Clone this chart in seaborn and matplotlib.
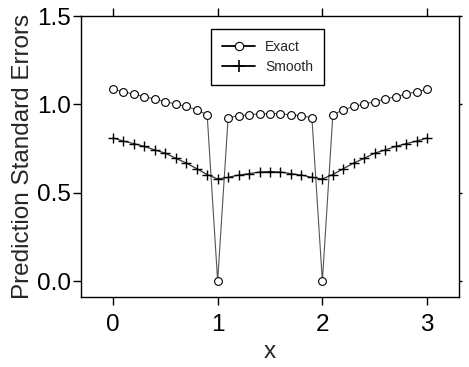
import matplotlib
matplotlib.use('Agg')
import matplotlib.pyplot as plt
import seaborn as sns
import numpy as np
from matplotlib.lines import Line2D

# x grid: 0.0 .. 3.0 in steps of 0.1
x_vals = [round(0.1 * i, 1) for i in range(31)]

exact = [1.085, 1.071, 1.058, 1.044, 1.030, 1.016, 1.002, 0.988, 0.970, 0.940,
         0.0,
         0.925, 0.935, 0.941, 0.946, 0.948, 0.946, 0.941, 0.935, 0.925,
         0.0,
         0.940, 0.970, 0.988, 1.002, 1.016, 1.030, 1.044, 1.058, 1.071, 1.085]

smooth = [0.810, 0.792, 0.778, 0.762, 0.742, 0.724, 0.695, 0.668, 0.636, 0.603,
          0.578,
          0.587, 0.600, 0.608, 0.617, 0.620, 0.617, 0.608, 0.600, 0.587,
          0.578,
          0.603, 0.636, 0.668, 0.695, 0.724, 0.742, 0.762, 0.778, 0.792, 0.810]

sns.set_style('ticks')
plt.rcParams['font.family'] = ['Liberation Sans', 'DejaVu Sans']

fig = plt.figure(figsize=(4.69, 3.67), dpi=100)
ax = fig.add_axes([0.1727, 0.1907, 0.806, 0.7657])

sns.lineplot(x=x_vals, y=exact, ax=ax, color='#555555', linewidth=0.8,
             marker='o', markersize=5.6, markerfacecolor='white',
             markeredgecolor='black', markeredgewidth=0.8)
sns.lineplot(x=x_vals, y=smooth, ax=ax, color='#333333', linewidth=0.9,
             marker='+', markersize=7, markeredgecolor='black',
             markeredgewidth=1.0)

ax.set_xlim(-0.305, 3.305)
ax.set_ylim(-0.09, 1.5)
ax.set_xticks([0, 1, 2, 3])
ax.set_yticks([0.0, 0.5, 1.0, 1.5])
ax.set_yticklabels(['0.0', '0.5', '1.0', '1.5'])

ax.set_xlabel('x', fontsize=17.5, labelpad=3)
ax.set_ylabel('Prediction Standard Errors', fontsize=17.5, labelpad=2)

for s in ax.spines.values():
    s.set_linewidth(1.0)
    s.set_color('black')

ax.tick_params(axis='both', direction='out', length=5.5, width=1.0,
               colors='black', labelsize=17.5)
ax.tick_params(axis='x', pad=7, top=True)
ax.tick_params(axis='y', pad=1.5, right=True)
for t in ax.yaxis.get_ticklines()[1::2]:
    t.set_markersize(2)

handles = [
    Line2D([], [], color='black', linewidth=1.3, marker='o', markersize=6,
           markerfacecolor='white', markeredgecolor='black', markeredgewidth=0.8),
    Line2D([], [], color='black', linewidth=1.3, marker='+', markersize=9,
           markeredgecolor='black', markeredgewidth=1.2),
]
leg = ax.legend(handles, ['Exact', 'Smooth'], loc='upper left',
                bbox_to_anchor=(0.344, 0.954), fontsize=10, frameon=True,
                fancybox=False, edgecolor='black', framealpha=1,
                handlelength=2.4, borderpad=0.8, labelspacing=0.45,
                handletextpad=0.7, borderaxespad=0)
leg.get_frame().set_linewidth(1.0)

fig.savefig('out.png', dpi=100)
